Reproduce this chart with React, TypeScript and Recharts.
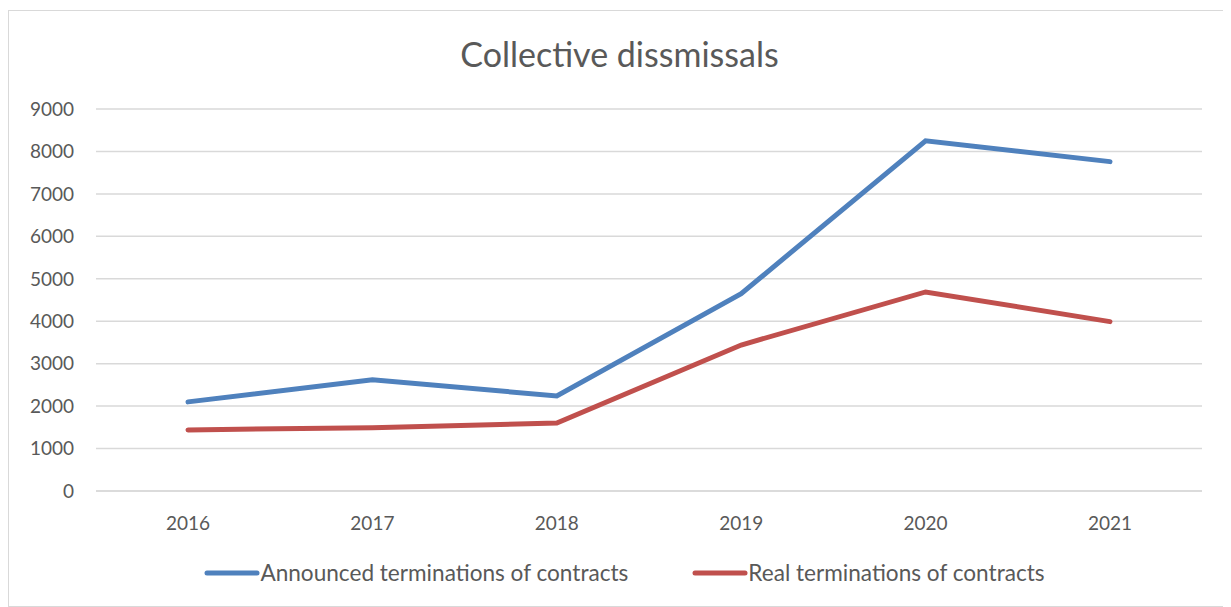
import React from 'react';
import { LineChart, Line, XAxis, YAxis, CartesianGrid, Legend } from 'recharts';

const years = ['2016', '2017', '2018', '2019', '2020', '2021'];
const announced = [2100, 2620, 2240, 4650, 8250, 7760];
const real = [1440, 1490, 1600, 3440, 4690, 3990];
const yTicks = [0, 1000, 2000, 3000, 4000, 5000, 6000, 7000, 8000, 9000];

const SERIES = [
    { key: 'announced', name: 'Announced terminations of contracts', color: '#4f81bd' },
    { key: 'real', name: 'Real terminations of contracts', color: '#c0504d' },
];

const FONT = 'Lato, "Open Sans", sans-serif';

const CustomLegend = () => (
    <div style={{ display: 'flex', justifyContent: 'center', alignItems: 'center', paddingLeft: 38, fontFamily: FONT, fontSize: 22.6, color: '#595959' }}>
        {SERIES.map((s, i) => (
            <div key={s.key} style={{ display: 'flex', alignItems: 'center', marginLeft: i ? 64 : 0 }}>
                <svg width={56} height={8}>
                    <line x1={3} y1={4} x2={53} y2={4} stroke={s.color} strokeWidth={5} strokeLinecap="round" />
                </svg>
                <span>{s.name}</span>
            </div>
        ))}
    </div>
);

const App = () => {
    const data = years.map((y, i) => ({ year: y, announced: announced[i], real: real[i] }));

    return (
        <div style={{ position: 'relative', width: 1221, height: 595, border: '1px solid #d9d9d9', marginTop: 2, background: '#fff' }}>
            <div style={{ position: 'absolute', top: 22, left: 0, width: '100%', textAlign: 'center', fontFamily: FONT, fontSize: 34, color: '#595959' }}>
                Collective dissmissals
            </div>
            <LineChart width={1221} height={595} data={data}
                margin={{ top: 98, right: 28, left: 0, bottom: 58 }}>
                <CartesianGrid vertical={false} stroke="#d9d9d9" strokeWidth={1.5} />
                <XAxis dataKey="year" padding={{ left: 92, right: 92 }} axisLine={{ stroke: '#d9d9d9', strokeWidth: 1.5 }} tickLine={false}
                    tick={{ fill: '#595959', fontSize: 19, fontFamily: FONT }} tickMargin={20} />
                <YAxis domain={[0, 9000]} ticks={yTicks} width={87} axisLine={false} tickLine={false} tickSize={0} tickMargin={22}
                    tick={{ fill: '#595959', fontSize: 19, fontFamily: FONT }} />
                <Legend verticalAlign="bottom" content={<CustomLegend />} wrapperStyle={{ bottom: 20 }} />
                {SERIES.map(s => (
                    <Line key={s.key} dataKey={s.key} name={s.name} stroke={s.color} strokeWidth={5} dot={false}
                        strokeLinecap="round" isAnimationActive={false} />
                ))}
            </LineChart>
        </div>
    );
};

export default App;
